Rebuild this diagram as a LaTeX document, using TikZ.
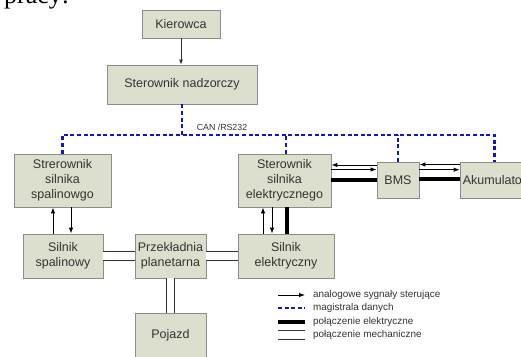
\documentclass[tikz,border=0pt]{standalone}
\usepackage{fontspec}
\setmainfont{Liberation Sans}
\newfontfamily\szeryf{Liberation Serif}
\usetikzlibrary{arrows.meta}

\definecolor{tlo}{RGB}{221,223,206}
\definecolor{ramka}{RGB}{140,140,140}
\definecolor{napis}{RGB}{51,51,51}
\definecolor{niebieski}{RGB}{20,20,205}

\tikzset{
  blok/.style={draw=ramka, fill=tlo, line width=0.8pt, text=napis,
    font=\fontsize{12.5}{15}\selectfont, align=center, inner sep=0pt},
  sygnal/.style={-{Latex[length=6pt,width=4.5pt]}, line width=0.9pt, black},
  magistrala/.style={niebieski, line width=2.3pt, dash pattern=on 4pt off 2.6pt},
  elektr/.style={black, line width=4pt},
  mech/.style={draw=napis, double=white, double distance=7.5pt, line width=1.2pt},
  legenda/.style={anchor=west, inner sep=0pt, text=napis, font=\fontsize{9.9}{12}\selectfont}
}

\begin{document}
\begin{tikzpicture}[x=1pt,y=1pt]
\useasboundingbox (0,0) rectangle (521,356);

% tekst nad rysunkiem
\node[anchor=base west, inner sep=0pt, font=\szeryf\fontsize{26}{30}\selectfont] (pracy) at (4,352.5) {pracy:};

% Bloki
\node[blok, minimum width=78pt, minimum height=28pt] (kier) at (181,332) {Kierowca};
\node[blok, minimum width=150pt, minimum height=39pt] (nadz) at (182,271.5) {Sterownik nadzorczy};
\node[blok, minimum width=97pt, minimum height=53pt] (sspal) at (62.5,175.5) {Strerownik\\silnika\\spalinowgo};
\node[blok, minimum width=93pt, minimum height=53pt] (sel) at (284.5,175.5) {Sterownik\\silnika\\elektrycznego};
\node[blok, minimum width=42pt, minimum height=36pt] (bms) at (398,176) {BMS};
\node[blok, minimum width=69pt, minimum height=36pt] (aku) at (494.5,176) {Akumulator};
\node[blok, minimum width=80pt, minimum height=44pt] (silsp) at (63,100) {Silnik\\spalinowy};
\node[blok, minimum width=71pt, minimum height=44pt] (przek) at (170.5,100) {Przekładnia\\planetarna};
\node[blok, minimum width=96pt, minimum height=44pt] (silel) at (286,100) {Silnik\\elektryczny};
\node[blok, minimum width=71pt, minimum height=44pt] (poj) at (170.5,21) {Pojazd};

\draw[-{Latex[length=5pt,width=4pt]}, napis, line width=0.7pt] (kier.south) -- (kier.south |- nadz.north);

% Magistrala danych
\coordinate (bus) at (182,221);
\node[text=napis, font=\fontsize{8.8}{10}\selectfont] (can) at (222,228.5) {CAN /RS232};
\draw[magistrala] (nadz.south) -- (bus);
\draw[magistrala] (sspal.north) |- (bus) -| (aku.north);
\draw[magistrala] ([xshift=1.5pt]sel.north) -- ([xshift=1.5pt]sel.north |- bus);
\draw[magistrala] (bms.north) -- (bms.north |- bus);

% Sygnaly i polaczenia elektryczne
\draw[sygnal] ([xshift=-10pt]silsp.north) -- ([xshift=-10pt]silsp.north |- sspal.south);
\draw[sygnal] ([xshift=8pt]silsp.north |- sspal.south) -- ([xshift=8pt]silsp.north);

\draw[sygnal] ([xshift=-23pt]silel.north) -- ([xshift=-23pt]silel.north |- sel.south);
\draw[sygnal] ([xshift=-14pt]silel.north |- sel.south) -- ([xshift=-14pt]silel.north);
\draw[elektr] ([xshift=1pt]silel.north) -- ([xshift=1pt]silel.north |- sel.south);

\draw[sygnal] ([yshift=15pt]bms.west) -- ([yshift=15pt]bms.west -| sel.east);
\draw[sygnal] ([yshift=10.5pt]bms.west -| sel.east) -- ([yshift=10.5pt]bms.west);
\draw[elektr] ([yshift=0.7pt]sel.east) -- ([yshift=0.7pt]sel.east -| bms.west);

\draw[sygnal] ([yshift=15.5pt]aku.west) -- ([yshift=15.5pt]aku.west -| bms.east);
\draw[sygnal] ([yshift=10.3pt]aku.west -| bms.east) -- ([yshift=10.3pt]aku.west);
\draw[elektr] ([yshift=0.7pt]bms.east) -- ([yshift=0.7pt]bms.east -| aku.west);

% Polaczenia mechaniczne
\draw[mech] (silsp.east) -- (przek.west);
\draw[mech] (przek.east) -- (silel.west);
\draw[mech] (przek.south) -- (poj.north);

% Legenda
\foreach \y/\styl/\tekst in {
61/sygnal/analogowe sygnały sterujące,
48/magistrala/magistrala danych,
34/elektr/połączenie elektryczne,
21/mech/połączenie mechaniczne
}
{
\node[legenda] (leg\y) at (313,\y) {\tekst};
\draw[\styl] ([xshift=-35pt]leg\y.west) -- ([xshift=-8pt]leg\y.west);
}

\end{tikzpicture}
\end{document}
